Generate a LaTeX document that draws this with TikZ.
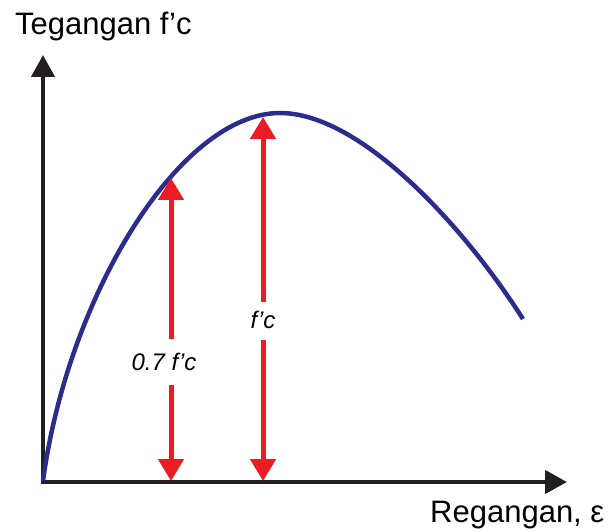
\documentclass[tikz,border=0pt]{standalone}
\usepackage{fontspec}
\setmainfont{Liberation Sans}
\usetikzlibrary{arrows.meta}
\definecolor{axisblack}{RGB}{35,31,32}
\definecolor{curveblue}{RGB}{43,45,140}
\definecolor{arrowred}{RGB}{237,28,36}
\tikzset{
  axisline/.style={draw=axisblack, line width=4.5pt, -{Triangle[length=22pt,width=23pt]}},
  curveline/.style={draw=curveblue, line width=4.5pt},
  redline/.style={draw=arrowred, line width=5pt},
  redtip/.style={redline, -{Triangle[length=22pt,width=25pt]}},
  axislabel/.style={inner sep=0pt, font=\fontsize{31}{36}\selectfont},
  vallabel/.style={inner sep=0pt, font=\fontsize{24}{28}\selectfont\itshape}
}
\begin{document}
\begin{tikzpicture}[x=1pt,y=-1pt]
\useasboundingbox (0,0) rectangle (611,532);
% axes
\coordinate (O) at (43,482);
\coordinate (ytip) at (43,55);
\coordinate (xtip) at (567,482);
\draw[axisline] (43,484) -- (ytip);
\draw[axisline] (41,482) -- (xtip);
\node[axislabel, anchor=base west] (ylab) at (15,35) {Tegangan f’c};
\node[axislabel, anchor=base west] (xlab) at (430,522) {Regangan, ε};
% curve
\coordinate (c0) at (43,481);
\coordinate (peak) at (280,113);
\coordinate (cend) at (523,319);
\draw[curveline] (c0) .. controls (68,295) and (180,113) .. (peak)
  .. controls (360,113) and (463,225) .. (cend);
% left red arrow (0.7 f'c)
\coordinate (a1top) at (171,178);
\coordinate (a1bot) at (171,481);
\coordinate (a1g1) at (171,339);
\coordinate (a1g2) at (171,385);
\node[vallabel] (l1) at (164,362) {0.7 f’c};
\draw[redtip] (a1g1) -- (a1top);
\draw[redtip] (a1g2) -- (a1bot);
% right red arrow (f'c)
\coordinate (a2top) at (263,117);
\coordinate (a2bot) at (263,481);
\coordinate (a2g1) at (263,302);
\coordinate (a2g2) at (263,340);
\node[vallabel] (l2) at (263,320) {f’c};
\draw[redtip] (a2g1) -- (a2top);
\draw[redtip] (a2g2) -- (a2bot);
\end{tikzpicture}
\end{document}
